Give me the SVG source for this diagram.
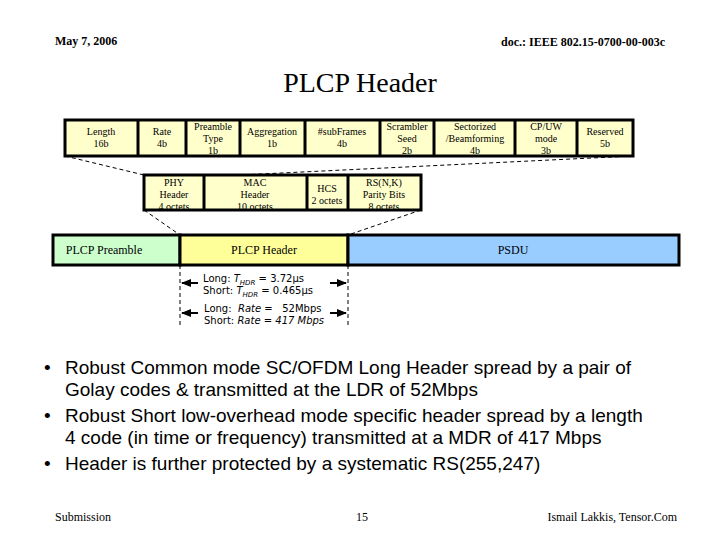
<svg xmlns="http://www.w3.org/2000/svg" width="720" height="540" viewBox="0 0 720 540">
<style>
.f{font-family:"Liberation Serif",serif;fill:#000}
.s{font-size:10px;text-anchor:middle}
.c{fill:#ffffcc;stroke:#000;stroke-width:3}
.d{stroke:#000;stroke-width:1;stroke-dasharray:4,3;fill:none}
.m{font-family:"DejaVu Sans",sans-serif;font-size:10px}
.b{font-family:"Liberation Sans",sans-serif;font-size:19px}
.ar{stroke:#000;stroke-width:2;marker-end:url(#a)}
</style>
<defs><marker id="a" markerUnits="userSpaceOnUse" markerWidth="10" markerHeight="8" refX="9" refY="4" orient="auto"><path d="M0,0 L10,4 L0,8 z"/></marker></defs>
<rect width="720" height="540" fill="#fff"/>
<text class="f" x="55" y="45" font-size="12" font-weight="bold">May 7, 2006</text>
<text class="f" x="665" y="46" font-size="12" font-weight="bold" text-anchor="end">doc.: IEEE 802.15-0700-00-003c</text>
<text class="f" x="360" y="92" font-size="28" text-anchor="middle">PLCP Header</text>
<g id="connectors">
<path class="d" d="M65,156 L144,175 M633,156 L240,175 M144,210 L180,235 M421,210 L348,235 M180,265 V326 M348,265 V326"/>
<line class="ar" x1="198" y1="283" x2="182" y2="283"/>
<line class="ar" x1="330" y1="283" x2="346" y2="283"/>
<line class="ar" x1="198" y1="313" x2="182" y2="313"/>
<line class="ar" x1="330" y1="313" x2="346" y2="313"/>
</g>
<g id="top">
<rect class="c" x="65" y="120" width="568" height="36"/>
<path stroke="#000" stroke-width="3" d="M138,120V156M186,120V156M240,120V156M305,120V156M380,120V156M434,120V156M515,120V156M577,120V156"/>
<g class="f s">
<text x="101" y="135">Length</text><text x="101" y="147">16b</text>
<text x="162" y="135">Rate</text><text x="162" y="147">4b</text>
<text x="213" y="130">Preamble</text><text x="213" y="142">Type</text><text x="213" y="154">1b</text>
<text x="272" y="135">Aggregation</text><text x="272" y="147">1b</text>
<text x="342" y="135">#subFrames</text><text x="342" y="147">4b</text>
<text x="407" y="130">Scrambler</text><text x="407" y="142">Seed</text><text x="407" y="154">2b</text>
<text x="475" y="130">Sectorized</text><text x="475" y="142">/Beamforming</text><text x="475" y="154">4b</text>
<text x="546" y="130">CP/UW</text><text x="546" y="142">mode</text><text x="546" y="154">3b</text>
<text x="605" y="135">Reserved</text><text x="605" y="147">5b</text>
</g></g>
<g id="mid">
<rect class="c" x="144" y="175" width="277" height="35"/>
<path stroke="#000" stroke-width="3" d="M204,175V210M307,175V210M348,175V210"/>
<g class="f s">
<text x="174" y="186">PHY</text><text x="174" y="198">Header</text><text x="174" y="210">4 octets</text>
<text x="255" y="186">MAC</text><text x="255" y="198">Header</text><text x="255" y="210">10 octets</text>
<text x="327" y="192">HCS</text><text x="327" y="204">2 octets</text>
<text x="384" y="186">RS(N,K)</text><text x="384" y="198">Parity Bits</text><text x="384" y="210">8 octets</text>
</g></g>
<g id="bottom">
<rect x="53" y="235" width="127" height="30" fill="#ccffcc" stroke="#000" stroke-width="3"/>
<rect x="180" y="235" width="168" height="30" fill="#ffff99" stroke="#000" stroke-width="3"/>
<rect x="348" y="235" width="331" height="30" fill="#99ccff" stroke="#000" stroke-width="3"/>
<g class="f" font-size="12" text-anchor="middle">
<text x="104" y="254">PLCP Preamble</text><text x="264" y="254">PLCP Header</text><text x="513" y="254">PSDU</text></g>
</g>
<g id="labels" class="m">
<text x="203" y="282">Long: <tspan font-style="italic">T</tspan><tspan font-style="italic" font-size="7" dy="3">HDR</tspan><tspan dy="-3"> = 3.72µs</tspan></text>
<text x="203" y="294">Short: <tspan font-style="italic">T</tspan><tspan font-style="italic" font-size="7" dy="3">HDR</tspan><tspan dy="-3"> = 0.465µs</tspan></text>
<text x="204" y="312" xml:space="preserve">Long:  <tspan font-style="italic">Rate</tspan> =   52Mbps</text>
<text x="204" y="324">Short: <tspan font-style="italic">Rate = 417 Mbps</tspan></text>
</g>
<g class="b">
<text x="44" y="374">•</text><text x="65" y="374">Robust Common mode SC/OFDM Long Header spread by a pair of</text>
<text x="65" y="396">Golay codes &amp; transmitted at the LDR of 52Mbps</text>
<text x="44" y="422">•</text><text x="65" y="422">Robust Short low-overhead mode specific header spread by a length</text>
<text x="65" y="444">4 code (in time or frequency) transmitted at a MDR of 417 Mbps</text>
<text x="44" y="470">•</text><text x="65" y="470">Header is further protected by a systematic RS(255,247)</text>
</g>
<g class="f" font-size="12">
<text x="55" y="521">Submission</text>
<text x="362" y="521" text-anchor="middle">15</text>
<text x="677" y="521" text-anchor="end">Ismail Lakkis, Tensor.Com</text>
</g>
</svg>
